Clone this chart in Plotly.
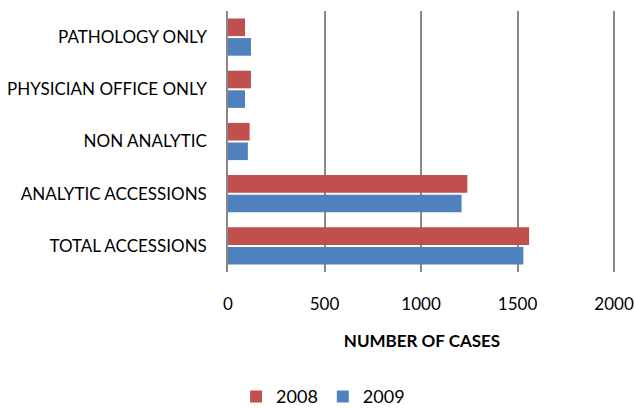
import plotly.graph_objects as go

categories = ["TOTAL ACCESSIONS", "ANALYTIC ACCESSIONS", "NON ANALYTIC",
              "PHYSICIAN OFFICE ONLY", "PATHOLOGY ONLY"]
values_2008 = [1560, 1240, 112, 119, 88]
values_2009 = [1530, 1210, 103, 88, 119]
x_ticks = [0, 500, 1000, 1500, 2000]

FONT = "Lato, 'Open Sans', sans-serif"

fig = go.Figure()
fig.add_trace(go.Bar(y=categories, x=values_2009, name="2009", orientation="h",
                     marker=dict(color="#4F81BD", line=dict(width=0))))
fig.add_trace(go.Bar(y=categories, x=values_2008, name="2008", orientation="h",
                     marker=dict(color="#C0504D", line=dict(width=0))))

fig.update_layout(
    width=635, height=408,
    margin=dict(l=228, r=19, t=11, b=136, autoexpand=False),
    paper_bgcolor="white", plot_bgcolor="white",
    barmode="group", bargap=0.25, bargroupgap=0.1,
    font=dict(family=FONT, size=17, color="#000000"),
    showlegend=True,
    legend=dict(orientation="h", traceorder="reversed", x=0.245, xanchor="center",
                y=-0.478, yanchor="middle", font=dict(size=18),
                itemwidth=30),
    xaxis=dict(range=[0, 2010], tickvals=x_ticks, ticktext=[str(v) for v in x_ticks],
               showgrid=True, gridcolor="#888888", gridwidth=1.5,
               zeroline=False, showline=False, ticks="", automargin=False,
               ticklabeloverflow="allow",
               ticklabelstandoff=20, tickfont=dict(size=17),
               title=dict(text="<b>NUMBER OF CASES</b>", font=dict(size=17), standoff=22)),
    yaxis=dict(showline=True, linecolor="#888888", linewidth=1.5, ticks="",
               automargin=False,
               showgrid=False, ticklabelstandoff=16, tickfont=dict(size=17)),
)

fig.write_html(
    "out.html",
    config={"displayModeBar": False},
    post_script=("document.body.style.margin='0';"
                 "document.body.style.overflow='hidden';"
                 "document.documentElement.style.overflow='hidden';"),
)
